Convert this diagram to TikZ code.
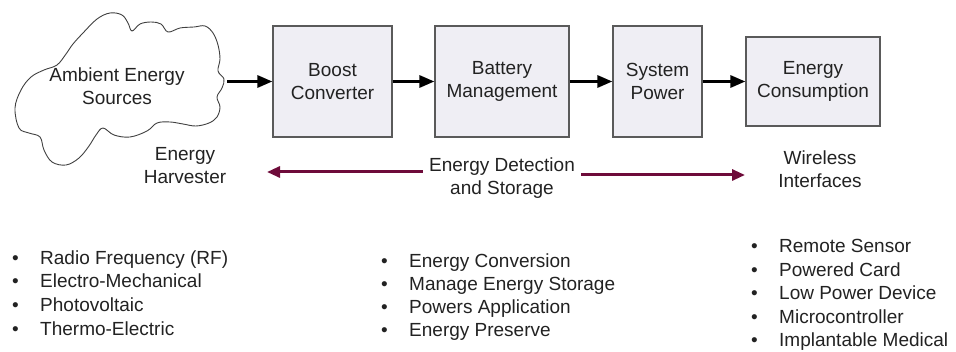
\documentclass[tikz,border=0pt]{standalone}
\usepackage{fontspec}
\setmainfont{Liberation Sans}
\usetikzlibrary{arrows.meta}

\definecolor{boxfill}{HTML}{EFEEF4}
\definecolor{boxline}{HTML}{5A5A5A}
\definecolor{wine}{HTML}{6E0B3A}
\definecolor{txt}{HTML}{222222}

\begin{document}
\begin{tikzpicture}[x=1pt,y=-1pt,
  every node/.style={font=\fontsize{19}{23}\selectfont, text=txt, align=center},
  block/.style={draw=boxline, fill=boxfill, line width=1.2pt, minimum height=111pt, inner sep=0pt},
  flow/.style={line width=3pt, -{Triangle[length=15pt,width=12pt]}},
  span/.style={wine, line width=3pt, -{Triangle[length=13pt,width=11pt]}},
  item/.style={anchor=base west, inner sep=0pt, align=left,
    execute at begin node={\llap{\textbullet\hspace{21.5pt}}}}]
\useasboundingbox (0,0) rectangle (956,352);
%----source cloud-------------------------------
\draw[black!75, line width=0.9pt] plot[smooth cycle, tension=0.6] coordinates {
  (15,108) (21,90) (31,77) (44,70) (57,65) (66,54) (73,44) (83,33) (97,19) (110,13)
  (122,15) (128,23) (132,31) (140,24) (151,22) (161,24) (168,32) (180,28) (194,27)
  (205,26) (213,33) (218,45) (220,59) (218,71) (224,79) (222,88) (217,97) (220,107)
  (217,117) (209,123) (196,126) (183,124) (170,122) (157,123) (147,131) (130,137)
  (114,135) (103,128) (96,135) (89,146) (79,158) (66,165) (52,162) (44,150) (40,137)
  (29,133) (19,128)};
\node (src) at (117,86) {Ambient Energy\\Sources};
\coordinate (srcout) at (227,81.5);
%----blocks-------------------------------------
\node[block, minimum width=119pt] (boost) at (332.5,81.5) {Boost\\Converter};
\node[block, minimum width=134pt] (batt) at (502,81.5) {Battery\\Management};
\node[block, minimum width=89pt] (sys) at (657.5,81.5) {System\\Power};
\node[block, minimum width=134pt, minimum height=89pt] (cons) at (813,81.5) {Energy\\Consumption};
\draw[flow] (srcout) -- (boost.west);
\draw[flow] (boost) -- (batt);
\draw[flow] (batt) -- (sys);
\draw[flow] (sys) -- (cons);
%----stage labels--------------------------------
\node (harv) at (185,166) {Energy\\Harvester};
\node[inner sep=6pt] (det) at (502,178) {Energy Detection\\and Storage};
\node (wless) at (820,169) {Wireless\\Interfaces};
\coordinate (harvtip) at (267,172);
\coordinate (wlesstip) at (745,175);
\draw[span] ([yshift=6pt]det.west) -- (harvtip);
\draw[span] ([yshift=3pt]det.east) -- (wlesstip);
%----lists---------------------------------------
\foreach \lbl [count=\i] in {Radio Frequency (RF),Electro-Mechanical,Photovoltaic,Thermo-Electric}
  \node[item] (harv\i) at (40,{264.3+23.6*(\i-1)}) {\lbl};
\foreach \lbl [count=\i] in {Energy Conversion,Manage Energy Storage,Powers Application,Energy Preserve}
  \node[item] (det\i) at (409,{268+23*(\i-1)}) {\lbl};
\foreach \lbl [count=\i] in {Remote Sensor,Powered Card,Low Power Device,Microcontroller,Implantable Medical}
  \node[item] (wless\i) at (779,{252.7+23.5*(\i-1)}) {\lbl};
\end{tikzpicture}
\end{document}
